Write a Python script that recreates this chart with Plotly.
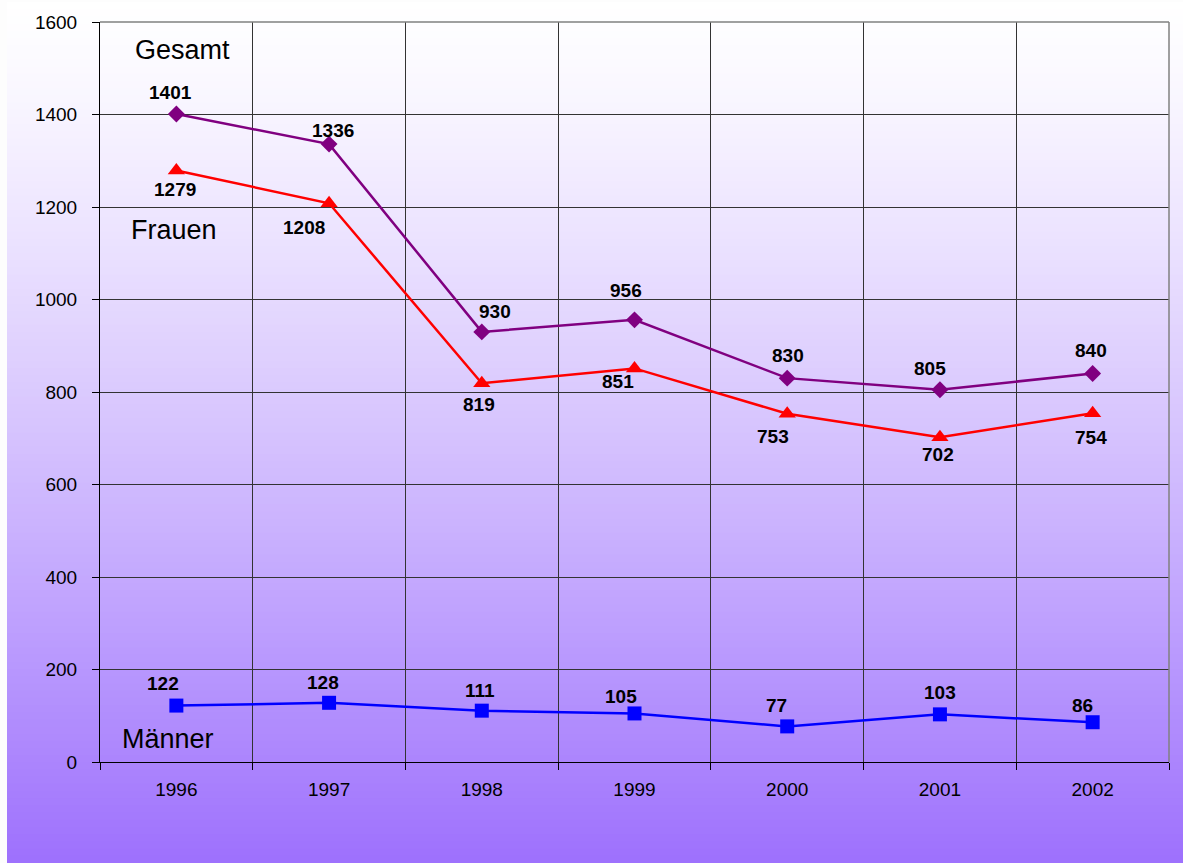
import plotly.graph_objects as go

years = ["1996", "1997", "1998", "1999", "2000", "2001", "2002"]
gesamt = [1401, 1336, 930, 956, 830, 805, 840]
frauen = [1279, 1208, 819, 851, 753, 702, 754]
maenner = [122, 128, 111, 105, 77, 103, 86]
y_ticks = [0, 200, 400, 600, 800, 1000, 1200, 1400, 1600]

# label offsets (px) relative to each point
gesamt_off = [(-6, 22), (4, 14), (13, 20), (-9, 29), (1, 23), (-10, 21), (-2, 23)]
frauen_off = [(-1, -19), (-25, -24), (-3, -21), (-17, -13), (-14, -23), (-2, -17), (-2, -24)]
maenner_off = [(-13, 22), (-6, 20), (-2, 20), (-14, 17), (-11, 21), (0, 22), (-10, 17)]

W, H = 1183, 863
L, R, T, B = 100, 14, 20, 101

fig = go.Figure()

series = [
    ("Gesamt", gesamt, "#800080", "diamond", 13, gesamt_off),
    ("Frauen", frauen, "#ff0000", "triangle-up", 15, frauen_off),
    ("Männer", maenner, "#0000ff", "square", 14, maenner_off),
]
for name, vals, col, sym, size, offs in series:
    fig.add_trace(go.Scatter(
        x=years, y=vals, name=name, mode="lines+markers",
        line=dict(color=col, width=2.5),
        marker=dict(symbol=sym, size=size, color=col),
    ))
    for i, (yv, (dx, dy)) in enumerate(zip(vals, offs)):
        fig.add_annotation(x=i, y=yv, text=str(yv), showarrow=False,
                           xshift=dx, yshift=dy,
                           font=dict(family="Liberation Sans, Arial", size=19,
                                     color="black", weight="bold"))

# series names
for txt, yv, dx in [("Gesamt", 1540, 6), ("Frauen", 1150, -2), ("Männer", 50, -8)]:
    fig.add_annotation(x=0, y=yv, text=txt, showarrow=False, xshift=dx,
                       font=dict(family="Liberation Sans, Arial", size=27, color="black"))

# background gradient: white at top to purple at bottom
shapes = []
n = 120
pw = W - L - R
ph = H - T - B
x0p = (7 - L) / pw
x1p = (W - L) / pw
for i in range(n):
    f = (i + 0.5) / n
    f2 = f ** 1.25
    r = round(255 - (255 - 157) * f2)
    g = round(255 - (255 - 112) * f2)
    b = round(255 - (255 - 253) * f2)
    ytop = 1 + T / ph - i * (H / ph) / n
    ybot = 1 + T / ph - (i + 1) * (H / ph) / n
    shapes.append(dict(type="rect", xref="paper", yref="paper",
                       x0=x0p, x1=x1p, y0=ybot - 0.001, y1=ytop,
                       fillcolor=f"rgb({r},{g},{b})", line=dict(width=0),
                       layer="below"))
# grey frame on top and right
shapes.append(dict(type="line", xref="paper", yref="paper", x0=0, x1=1, y0=1, y1=1,
                   line=dict(color="#808080", width=1.5)))
shapes.append(dict(type="line", xref="paper", yref="paper", x0=1, x1=1, y0=0, y1=1,
                   line=dict(color="#808080", width=1.5)))

fig.update_layout(
    width=W, height=H,
    margin=dict(l=L, r=R, t=T, b=B),
    paper_bgcolor="#fdfdfd",
    plot_bgcolor="rgba(0,0,0,0)",
    showlegend=False,
    shapes=shapes,
    font=dict(family="Liberation Sans, Arial", color="black"),
)
fig.update_xaxes(
    type="category", tickson="boundaries", showgrid=True, gridcolor="#333333", gridwidth=1,
    showline=True, linecolor="black", linewidth=1,
    ticks="outside", ticklen=7, tickcolor="black", ticklabelstandoff=10,
    tickfont=dict(size=19), range=[-0.5, 6.5], zeroline=False,
)
fig.update_yaxes(
    range=[0, 1600], tickvals=y_ticks, showgrid=True, gridcolor="#333333", gridwidth=1,
    showline=True, linecolor="black", linewidth=1,
    ticks="outside", ticklen=7, tickcolor="black", ticklabelstandoff=11,
    tickfont=dict(size=19), zeroline=False,
)

fig.write_html("out.html", config={"displayModeBar": False},
               post_script="document.body.style.margin='0';")
